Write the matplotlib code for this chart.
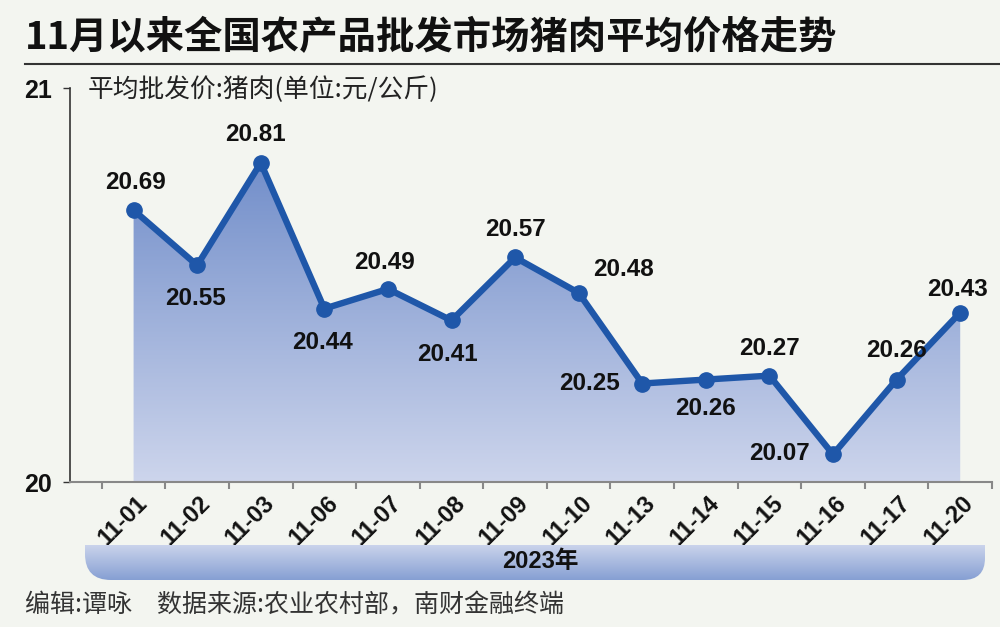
import numpy as np
import matplotlib
matplotlib.use("Agg")
import matplotlib.pyplot as plt
from matplotlib.path import Path
from matplotlib.patches import PathPatch
from matplotlib.colors import LinearSegmentedColormap
import matplotlib.transforms as mtransforms

# data
dates = ["11-01", "11-02", "11-03", "11-06", "11-07", "11-08", "11-09",
         "11-10", "11-13", "11-14", "11-15", "11-16", "11-17", "11-20"]
prices = [20.69, 20.55, 20.81, 20.44, 20.49, 20.41, 20.57,
          20.48, 20.25, 20.26, 20.27, 20.07, 20.26, 20.43]
year_label = "2023年"

# label offsets in pixels (dx, dy) relative to each point
label_offsets = [(2, 28), (-2, -33), (-5, 28), (-2, -34), (-3, 26), (-4, -34), (0, 28),
                 (45, 23), (-53, 0), (0, -29), (0, 27), (-54, 1), (0, 29), (-3, 23)]

BG = "#f3f5f0"
LINE = "#1f57a9"
CJK = ["Noto Sans CJK SC", "DejaVu Sans"]
NUM = ["Liberation Sans", "DejaVu Sans"]

fig = plt.figure(figsize=(10, 6.27), dpi=100, facecolor=BG)
W, H = 1000, 627

def fx(px):
    return px / W

def fy(py):
    return 1 - py / H

# title and rule
fig.text(fx(25), fy(38), "11月以来全国农产品批发市场猪肉平均价格走势", family=CJK,
         fontsize=27.6, fontweight="bold", color="#111111", va="center", ha="left")
fig.add_artist(plt.Line2D([fx(25), fx(1000)], [fy(64), fy(64)], color="#333333", lw=1.5))

ax = fig.add_axes([fx(70), fy(482), fx(992) - fx(70), fy(88) - fy(482)])
ax.set_facecolor("none")
x = np.arange(len(dates))
ax.set_xlim(-1, len(dates) - 0.5)
ax.set_ylim(20, 21)

# gradient fill under the line
cmap = LinearSegmentedColormap.from_list("fill", ["#cdd5ec", "#5d7ec2"])
grad = np.linspace(0, 1, 256).reshape(-1, 1)
im = ax.imshow(grad, cmap=cmap, origin="lower", aspect="auto",
               extent=[-1, len(dates) - 0.5, 20, 21], zorder=1)
poly_v = [(x[0], 20)] + list(zip(x, prices)) + [(x[-1], 20), (x[0], 20)]
clip = PathPatch(Path(poly_v), transform=ax.transData, facecolor="none", edgecolor="none")
ax.add_patch(clip)
im.set_clip_path(clip)

ax.plot(x, prices, color=LINE, lw=4.6, marker="o", markersize=11,
        solid_joinstyle="round", zorder=3)

for xi, p, (dx, dy) in zip(x, prices, label_offsets):
    ax.annotate(f"{p:.2f}", (xi, p), xytext=(dx * 0.72, dy * 0.72), textcoords="offset points",
                ha="center", va="center", family=NUM, fontsize=17.5, fontweight="bold",
                color="#111111", zorder=4)

# axes styling
for s in ["top", "right"]:
    ax.spines[s].set_visible(False)
ax.spines["left"].set_color("#333333")
ax.spines["left"].set_linewidth(1.2)
ax.spines["bottom"].set_color("#888888")
ax.spines["bottom"].set_linewidth(1.5)

ax.set_yticks([20, 21])
ax.set_yticklabels(["20", "21"], family=NUM, fontsize=18, fontweight="bold", color="#111111")
ax.tick_params(axis="y", length=5, width=1, color="#333333", pad=8)

ax.set_xticks(x)
ax.set_xticks(np.arange(-0.5, len(dates)), minor=True)
ax.tick_params(axis="x", which="major", length=0, pad=4)
ax.tick_params(axis="x", which="minor", length=5, width=1.5, color="#888888")
ax.set_xticklabels(dates, rotation=45, ha="right", va="center", rotation_mode="anchor",
                   family=NUM, fontsize=17, fontweight="bold", color="#111111")
off = mtransforms.ScaledTranslation(10 / 100, -12 / 100, fig.dpi_scale_trans)
for lab in ax.get_xticklabels():
    lab.set_transform(lab.get_transform() + off)

# subtitle
fig.text(fx(88), fy(90), "平均批发价:猪肉(单位:元/公斤)", family=CJK, fontsize=18.5,
         fontweight="medium", color="#222222", va="center", ha="left")

# year band with rounded bottom corners
bx = fig.add_axes([fx(85), fy(580), fx(985) - fx(85), fy(545) - fy(580)])
bx.set_xlim(0, 900)
bx.set_ylim(0, 35)
bx.axis("off")
bcmap = LinearSegmentedColormap.from_list("band", ["#869fd3", "#ccd5ec"])
bim = bx.imshow(grad, cmap=bcmap, origin="lower", aspect="auto", extent=[0, 900, 0, 35])
rl, rr = 26, 22
verts = [(0, 35), (900, 35), (900, rr), (900, 0), (900 - rr, 0), (rl, 0), (0, 0), (0, rl), (0, 35)]
codes = [Path.MOVETO, Path.LINETO, Path.LINETO, Path.CURVE3, Path.CURVE3,
         Path.LINETO, Path.CURVE3, Path.CURVE3, Path.CLOSEPOLY]
band = PathPatch(Path(verts, codes), transform=bx.transData, facecolor="none", edgecolor="none")
bx.add_patch(band)
bim.set_clip_path(band)
bx.text(455, 18, year_label, family=["Liberation Sans", "Noto Sans CJK SC"], fontsize=17,
        fontweight="bold", color="#111111", ha="center", va="center")

# footer
fig.text(fx(25), fy(605), "编辑:谭咏　数据来源:农业农村部，南财金融终端", family=CJK,
         fontsize=18, color="#333333", va="center", ha="left")

fig.savefig("out.png", dpi=100, facecolor=BG)
